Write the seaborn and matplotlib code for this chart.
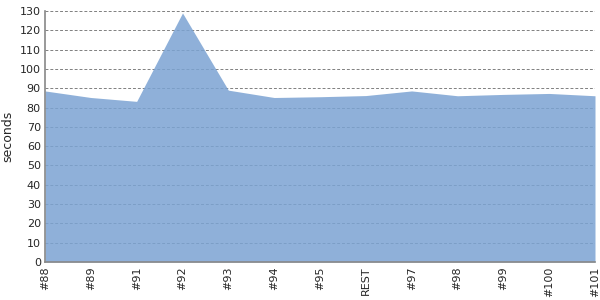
import matplotlib
matplotlib.use("Agg")
import matplotlib.pyplot as plt
import seaborn as sns
import pandas as pd

categories = ["#88", "#89", "#91", "#92", "#93", "#94", "#95", "REST", "#97", "#98", "#99", "#100", "#101"]
seconds = [88.6, 85.2, 83.2, 129.0, 89.0, 85.2, 85.6, 86.2, 88.6, 86.1, 86.8, 87.3, 86.1]

df = pd.DataFrame({"build": categories, "seconds": seconds, "pos": range(len(categories))})

sns.set_style("white")
plt.rcParams['font.family'] = ['DejaVu Sans']
fig = plt.figure(figsize=(6, 3), dpi=100)
ax = fig.add_axes([45/600, 38/300, 550/600, 251/300])

sns.lineplot(data=df, x="pos", y="seconds", ax=ax, color="#7ba3d3", linewidth=0, zorder=3)
ax.fill_between(df["pos"], df["seconds"], 0, color="#7ba3d3", alpha=0.85, linewidth=0, zorder=3)

ax.set_xlim(0, len(categories) - 1)
ax.set_ylim(0, 130)
ax.set_yticks(range(0, 131, 10))
ax.set_xticks(df["pos"])
ax.set_xticklabels(categories, rotation=90, fontsize=8)
ax.tick_params(axis="y", labelsize=8, length=0, pad=3)
ax.tick_params(axis="x", length=0, pad=3)
ax.set_xlabel("")
ax.set_ylabel("seconds", fontsize=9)
ax.yaxis.grid(True, linestyle=(0, (3, 2)), color="#808080", linewidth=0.7, zorder=1)
ax.set_axisbelow(True)
for s in ["top", "right"]:
    ax.spines[s].set_visible(False)
for s in ["left", "bottom"]:
    ax.spines[s].set_color("#888888")
    ax.spines[s].set_linewidth(1.2)
    ax.spines[s].set_zorder(4)

fig.savefig("out.png", dpi=100)
